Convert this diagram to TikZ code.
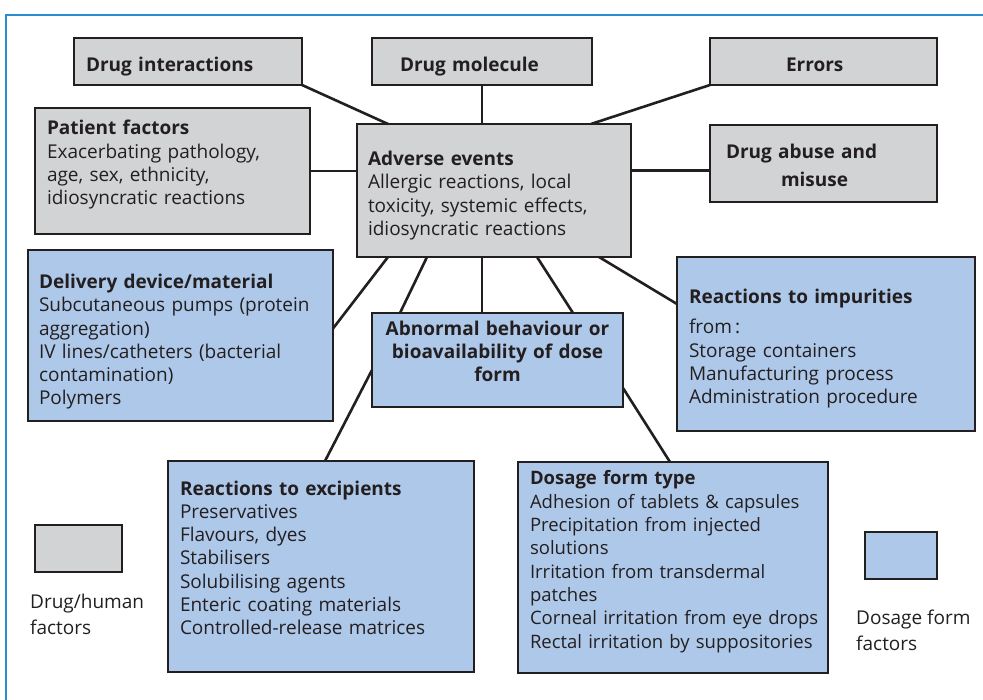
\documentclass[tikz,border=0pt]{standalone}
\usepackage{fontspec}
\setmainfont{Open Sans}
\usetikzlibrary{positioning,calc}
\definecolor{BoxGrey}{RGB}{209,211,212}
\definecolor{BoxBlue}{RGB}{174,200,233}
\definecolor{BoxEdge}{RGB}{35,31,32}
\definecolor{FrameBlue}{RGB}{41,141,206}
\newcommand\boxfont{\fontsize{19}{23.3}\selectfont}
\hfuzz=20pt

\begin{document}
\begin{tikzpicture}[
  x=1pt, y=-1pt, % page pixels, y running downwards
  panel/.style={draw=BoxEdge, line width=1.3pt, anchor=north west, align=left,
    inner sep=0pt, outer sep=0pt, font=\boxfont, text=BoxEdge},
  grey/.style={panel, fill=BoxGrey},
  blue/.style={panel, fill=BoxBlue},
  % first baseline sits #1 below the top edge, box ends #2 below it
  lines/.style 2 args={text height=#1, text depth=#2},
  keytext/.style={anchor=north west, align=left, inner sep=0pt,
    font=\fontsize{19}{25.5}\selectfont, text=BoxEdge},
  link/.style={draw=BoxEdge, line width=2.6pt},
  frame/.style={draw=FrameBlue, line width=1.2pt}
]
\useasboundingbox (0,0) rectangle (983,700);
\draw[frame] (6,700) |- (983,15);

% --- Top row ---
\node[grey, minimum width=228pt, lines={33.5pt}{13.5pt}, text width=204pt] (di) at (74,38)
  {\textbf{Drug interactions}};
\node[grey, minimum width=220pt, lines={33.5pt}{13.5pt}, text width=164pt] (dm) at (372,38)
  {\textbf{Drug molecule}};
\node[grey, minimum width=227pt, lines={33.5pt}{13.5pt}, text width=75pt] (er) at (710,38)
  {\textbf{Errors}};

% --- Middle band ---
\node[grey, minimum width=275pt, lines={27pt}{99pt}, text width=251pt] (pf) at (35,108)
  {\textbf{Patient factors}\\ Exacerbating pathology,\\ age, sex, ethnicity,\\
   idiosyncratic reactions};
\node[grey, minimum width=274pt, lines={41.5pt}{91.5pt}, text width=252pt] (ae) at (357,124)
  {\textbf{Adverse events}\\ Allergic reactions, local\\ toxicity, systemic effects,\\
   idiosyncratic reactions};
\node[grey, minimum width=227pt, lines={33.5pt}{43.5pt}, text width=195pt] (da) at (710,125)
  {\textbf{Drug abuse and}\\[5pt] \hspace*{55pt}\textbf{misuse}};

% --- Dosage form boxes ---
\node[blue, minimum width=305pt, lines={38.5pt}{132.5pt}, text width=283pt] (dd) at (28,250)
  {\textbf{Delivery device/material}\\ Subcutaneous pumps (protein\\ aggregation)\\
   IV lines/catheters (bacterial\\ contamination)\\ Polymers};
\node[blue, minimum width=251pt, lines={23pt}{71pt}, text width=240pt, align=center] (ab) at (372,313)
  {\textbf{Abnormal behaviour or}\\[-0.5pt] \textbf{bioavailability of dose}\\[-0.5pt] \textbf{form}};
\node[blue, minimum width=298pt, lines={47pt}{127pt}, text width=274pt] (ri) at (677,257)
  {\textbf{Reactions to impurities}\\[6.5pt] from\,:\\ Storage containers\\
   Manufacturing process\\ Administration procedure};
\node[blue, minimum width=306pt, lines={34pt}{177pt}, text width=282pt] (re) at (168,461)
  {\textbf{Reactions to excipients}\\ Preservatives\\ Flavours, dyes\\ Stabilisers\\
   Solubilising agents\\ Enteric coating materials\\ Controlled-release matrices};
% long lines here, so a touch smaller and kept in one piece
\node[blue, minimum width=310pt, lines={23pt}{188pt}, text width=286pt,
  font=\fontsize{18.5}{23.3}\selectfont] (df) at (518,462)
  {\textbf{Dosage form type}\\ Adhesion of tablets \& capsules\\ Precipitation from injected\\
   solutions\\ Irritation from transdermal\\ patches\\ \mbox{Corneal irritation from eye drops}\\
   \mbox{Rectal irritation by suppositories}};

% --- Key ---
\node[grey, minimum width=87pt, minimum height=47pt] (keygrey) at (35,525) {};
\node[keytext] (keygreytext) at (30,594) {Drug/human\\ factors};
\node[blue, minimum width=72pt, minimum height=47pt] (keyblue) at (865,532) {};
\node[keytext] (keybluetext) at (856,610) {Dosage form\\ factors};

% --- Connectors ---
\draw[link] (di.south east) -- ([xshift=31pt]ae.north west);
\draw[link] (dm.south) -- (dm.south |- ae.north);
\draw[link] (er.south west) -- ([xshift=-40pt]ae.north east);
\draw[link] (pf.east) -- (pf.east -| ae.west);
\draw[link] ([yshift=-7pt]da.west) -- ([yshift=-7pt]da.west -| ae.east);
\draw[link] ([xshift=31pt]ae.south west) -- ([yshift=7pt]dd.east);
\draw[link] ([xshift=70pt]ae.south west) -- ([xshift=28pt]ab.north west);
\draw[link] ([xshift=-12pt]ae.south) -- ([xshift=-12pt]ae.south |- ab.north);
\draw[link] ([xshift=-94pt]ae.south east) -- ([xshift=-50pt]ab.north east);
\draw[link] ([xshift=-32pt]ae.south east) -- ([yshift=-47pt]ri.north west);
\draw[link] ([yshift=-57pt]ab.north west) -- ([xshift=157pt]re.north west);
\draw[link] ([yshift=-75pt]ab.north east) -- ([xshift=152pt]df.north west);
\end{tikzpicture}
\end{document}
